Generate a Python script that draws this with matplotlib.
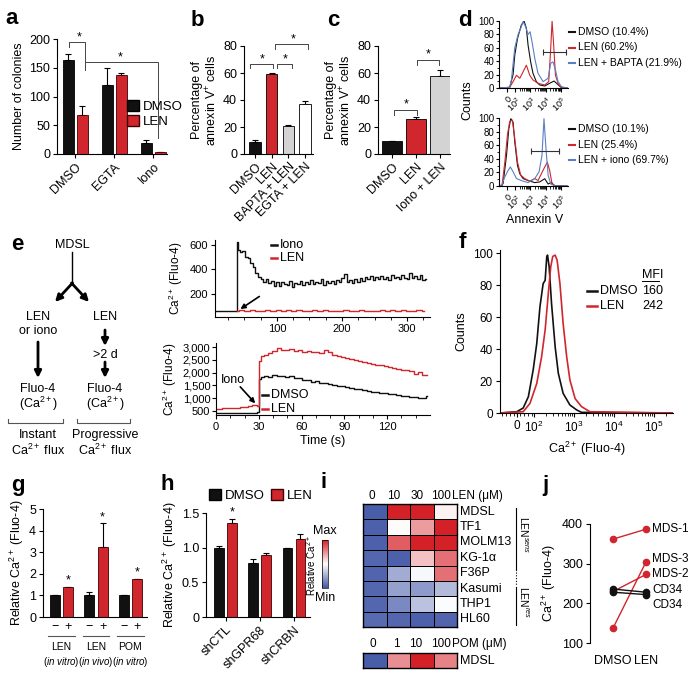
import numpy as np
import matplotlib
matplotlib.use('Agg')
import matplotlib.pyplot as plt
import matplotlib.transforms as mtransforms
from matplotlib.patches import Patch
from matplotlib.colors import LinearSegmentedColormap

plt.rcParams['font.family'] = ['Liberation Sans', 'DejaVu Sans']
plt.rcParams['mathtext.fontset'] = 'custom'
plt.rcParams['mathtext.rm'] = 'Liberation Sans'
plt.rcParams['mathtext.it'] = 'Liberation Sans:italic'
plt.rcParams['mathtext.bf'] = 'Liberation Sans:bold'
plt.rcParams['font.size'] = 8
plt.rcParams['axes.linewidth'] = 0.8

BLACK = '#111111'
RED = '#d0262d'
BLUE = '#5b7fc4'
GREY = '#d3d3d3'

# ---------------- data ----------------
# a
a_groups = ['DMSO', 'EGTA', 'Iono']
a_dmso = [163, 120, 19]
a_dmso_err = [11, 30, 5]
a_len = [68, 137, 3]
a_len_err = [16, 4, 1]
# b
b_labels = ['DMSO', 'LEN', 'BAPTA + LEN', 'EGTA + LEN']
b_vals = [9, 59.5, 20.5, 37]
b_err = [1.2, 0.6, 1.2, 2]
# c
c_labels = ['DMSO', 'LEN', 'Iono + LEN']
c_vals = [9.5, 26, 57.5]
c_err = [0.4, 1.5, 5]
# d (x in decade positions of the flow axis)
d1_dmso_x = [0.95, 1.65, 1.87, 1.98, 2.16, 2.41, 2.59, 2.74, 2.85, 3.02, 3.17, 3.39, 3.61, 3.94, 4.26, 4.55, 4.81, 5.03, 5.4]
d1_dmso_y = [0, 1, 20, 49, 74, 94, 100, 89, 64, 39, 22, 9.5, 4.5, 3, 7, 10.4, 5, 0.5, 0]
d1_len_x = [0.95, 1.65, 1.87, 2.09, 2.31, 2.52, 2.74, 2.96, 3.17, 3.50, 3.94, 4.20, 4.33, 4.42, 4.51, 4.64, 4.81, 5.03, 5.4]
d1_len_y = [0, 1, 9.5, 19, 14.5, 24, 34, 19, 12, 7, 4.5, 9.5, 59, 100, 69, 19, 7, 0.5, 0]
d1_bapta_x = [0.95, 1.65, 1.76, 1.98, 2.20, 2.37, 2.52, 2.68, 2.85, 2.98, 3.11, 3.29, 3.50, 3.83, 4.16, 4.33, 4.48, 4.64, 4.81, 5.03, 5.4]
d1_bapta_y = [0, 1, 12, 60, 80, 89, 99, 92, 80, 84, 69, 44, 22, 9.5, 14.5, 37, 39, 27, 9.5, 2, 0]
d1_gate = [3.85, 5.36]
d2_dmso_x = [0.95, 1.15, 1.22, 1.44, 1.59, 1.72, 1.87, 1.98, 2.16, 2.31, 2.52, 2.85, 3.29, 3.61, 3.94, 4.16, 4.37, 4.59, 5.4]
d2_dmso_y = [0, 1, 4, 45, 84, 99, 94, 65, 30, 18, 11, 8, 5, 6, 10.7, 3, 5, 0.5, 0]
d2_len_x = [0.95, 1.15, 1.33, 1.50, 1.65, 1.82, 1.98, 2.16, 2.37, 2.63, 2.96, 3.29, 3.50, 3.72, 3.94, 4.11, 4.26, 4.42, 4.59, 5.4]
d2_len_y = [0, 1, 35, 75, 95, 97, 70, 35, 16, 11, 7, 11, 8, 18, 28, 35, 23, 3, 0.5, 0]
d2_iono_x = [0.95, 1.15, 1.28, 1.50, 1.69, 1.87, 2.09, 2.41, 2.85, 3.29, 3.57, 3.76, 3.89, 4.02, 4.16, 4.33, 4.59, 5.4]
d2_iono_y = [0, 2, 11, 21, 28, 21, 11, 8, 5, 11, 21, 45, 99, 55, 16, 3, 0.5, 0]
d2_gate = [3.02, 4.85]
d_legend1 = ['DMSO (10.4%)', 'LEN (60.2%)', 'LEN + BAPTA (21.9%)']
d_legend2 = ['DMSO (10.1%)', 'LEN (25.4%)', 'LEN + iono (69.7%)']
# e, top trace
e1_iono_t = [5, 10, 15, 20, 25, 30, 35, 38, 39,
             41, 45, 49, 53, 57, 61, 65, 69, 73, 77, 81, 85, 89, 93, 97, 101, 105, 109,
             113, 117, 121, 125, 129, 133, 137, 141, 145, 149, 153, 157, 161, 165, 169,
             173, 177, 181, 185, 189, 193, 197, 201, 205, 209, 213, 217, 221, 225, 229,
             233, 237, 241, 245, 249, 253, 257, 261, 265, 269, 273, 277, 281, 285, 289,
             293, 297, 301, 305, 309, 313, 317, 321, 325, 329]
e1_iono_v = [58, 60, 57, 62, 59, 61, 60, 62, 625,
             560, 540, 548, 505, 490, 455, 420, 370, 335, 320, 300, 325, 285, 305, 265,
             295, 262, 300, 278, 268, 305, 255, 292, 276, 302, 268, 296, 282, 312, 276,
             300, 288, 322, 275, 306, 286, 302, 278, 312, 294, 330, 365, 300, 316, 290,
             322, 300, 330, 306, 338, 318, 342, 312, 335, 320, 348, 325, 340, 316, 352,
             328, 340, 322, 355, 330, 318, 370, 326, 345, 318, 350, 310, 325]
e1_len_t = [38, 46, 54, 62, 70, 78, 86, 94, 102, 110, 118, 126, 134, 142, 150, 158, 166,
            174, 182, 190, 198, 206, 214, 222, 230, 238, 246, 254, 262, 270, 278, 286,
            294, 302, 310, 318, 326]
e1_len_v = [62, 66, 60, 68, 63, 58, 65, 61, 67, 59, 64, 60, 66, 62, 58, 65, 61, 67, 60,
            63, 59, 66, 62, 60, 65, 58, 63, 61, 66, 60, 64, 59, 65, 62, 58, 66, 60]
# e, bottom trace
e2_t = [0, 3, 6, 9, 12, 15, 18, 21, 24, 27, 30, 30.5,
        32, 35, 38, 41, 44, 47, 50, 53, 56, 59, 62, 65, 68, 71, 74, 77, 80, 83, 86,
        89, 92, 95, 98, 101, 104, 107, 110, 113, 116, 119, 122, 125, 128, 131, 134,
        137, 140, 143, 146, 148]
e2_dmso = [400, 405, 398, 410, 412, 408, 415, 420, 418, 425, 430, 1750,
           1830, 1860, 1840, 1890, 1850, 1880, 1830, 1870, 1800, 1770, 1720, 1710,
           1650, 1670, 1600, 1590, 1540, 1530, 1480, 1480, 1420, 1410, 1360, 1340,
           1300, 1290, 1250, 1240, 1200, 1190, 1150, 1140, 1120, 1090, 1070, 1040,
           1030, 1000, 1020, 1060]
e2_len = [570, 585, 590, 605, 610, 625, 640, 665, 690, 715, 700, 2450,
          2650, 2710, 2790, 2860, 2960, 2900, 2880, 2930, 2860, 2900, 2830, 2860,
          2800, 2830, 2780, 2890, 2800, 2700, 2660, 2610, 2570, 2530, 2490, 2460,
          2420, 2390, 2350, 2310, 2290, 2250, 2210, 2190, 2150, 2110, 2090, 2060,
          1950, 2010, 1900, 1920]
# f
f_dmso_x = [1.15, 1.57, 1.73, 1.86, 1.98, 2.07, 2.15, 2.23, 2.28, 2.32, 2.34, 2.38, 2.44, 2.53, 2.61, 2.73, 2.90, 3.07, 3.19, 5.48]
f_dmso_y = [0, 0.8, 3.1, 10.2, 26.9, 43.5, 66.5, 81, 83, 97.7, 98.8, 91.5, 68.5, 41.5, 24.8, 12.3, 5.0, 1.9, 0.4, 0]
f_len_x = [1.15, 1.73, 1.90, 2.07, 2.19, 2.28, 2.36, 2.42, 2.47, 2.53, 2.58, 2.65, 2.73, 2.82, 2.90, 3.03, 3.19, 3.40, 5.48]
f_len_y = [0, 0.8, 6, 18.5, 35, 52, 75, 91.5, 98, 98.8, 95.6, 81, 56, 35, 20.6, 9, 4, 0.8, 0]
f_mfi = [160, 242]
# g
g_groups = ['LEN', 'LEN', 'POM']
g_sub = ['in vitro', 'in vivo', 'in vitro']
g_ctrl = [1.0, 1.0, 1.0]
g_ctrl_err = [0.03, 0.18, 0.03]
g_trt = [1.37, 3.25, 1.75]
g_trt_err = [0.04, 1.08, 0.03]
# h
h_labels = ['shCTL', 'shGPR68', 'shCRBN']
h_dmso = [1.0, 0.78, 0.99]
h_dmso_err = [0.03, 0.05, 0.01]
h_len = [1.36, 0.9, 1.12]
h_len_err = [0.05, 0.03, 0.07]
# i
i_len_doses = ['0', '10', '30', '100']
i_cells = ['MDSL', 'TF1', 'MOLM13', 'KG-1α', 'F36P', 'Kasumi', 'THP1', 'HL60']
i_len = [[0.02, 1.00, 1.00, 0.53],
         [0.03, 0.51, 0.72, 1.00],
         [0.03, 0.86, 1.00, 1.00],
         [0.05, 0.03, 0.64, 0.82],
         [0.04, 0.25, 0.48, 0.82],
         [0.05, 0.22, 0.20, 0.30],
         [0.05, 0.15, 0.32, 0.49],
         [0.06, 0.05, 0.03, 0.04]]
i_pom_doses = ['0', '1', '10', '100']
i_pom = [[0.02, 0.75, 1.00, 0.78]]
# j
j_names = ['MDS-1', 'MDS-3', 'MDS-2', 'CD34', 'CD34']
j_dmso = [362, 138, 230, 236, 228]
j_len = [387, 305, 273, 228, 222]
j_colors = [RED, RED, RED, BLACK, BLACK]

# ---------------- figure ----------------
W, H = 693, 678
fig = plt.figure(figsize=(W / 100.0, H / 100.0), dpi=100)


def axpx(l, t, r, b):
    return fig.add_axes([l / float(W), 1 - b / float(H), (r - l) / float(W), (b - t) / float(H)])


def style(ax, size=8):
    for s in ['top', 'right']:
        ax.spines[s].set_visible(False)
    ax.tick_params(direction='out', length=3, width=0.8, labelsize=size, pad=2)
    ax.tick_params(which='minor', length=1.8, width=0.6)


def star(ax, x, y, size=9):
    tr = mtransforms.offset_copy(ax.transData, fig=fig, x=0, y=-0.58 * size * 100 / 72.0, units='dots')
    ax.text(x, y, '*', ha='center', va='baseline', fontsize=size, transform=tr, clip_on=False)


def bracket(ax, x1, x2, y, d1, d2=None):
    if d2 is None:
        d2 = d1
    ax.plot([x1, x1, x2, x2], [y - d1, y, y, y - d2], color='#444444', lw=0.7, clip_on=False)


def up_err(ax, x, v, e):
    ax.errorbar(x, v, yerr=[[0] * len(v), e], fmt='none', ecolor='k', elinewidth=0.8,
                capsize=2.5, capthick=0.8, zorder=1)


ov = fig.add_axes([0, 0, 1, 1])
ov.set_xlim(0, W)
ov.set_ylim(H, 0)
ov.axis('off')
ov.set_zorder(10)


def letter(x, y, s):
    ov.text(x, y, s, fontsize=16, fontweight='bold', ha='center', va='center')


for x, y, s in [(12, 19, 'a'), (197, 20, 'b'), (333, 20, 'c'), (465, 20, 'd'), (17, 245, 'e'),
                (462, 243, 'f'), (18, 485, 'g'), (167, 485, 'h'), (324, 482, 'i'), (545, 485, 'j')]:
    letter(x, y, s)

# ---- a ----
ax = axpx(57, 39, 167, 154)
style(ax)
x = np.arange(len(a_groups))
ax.bar(x - 0.18, a_dmso, 0.28, color=BLACK, edgecolor='k', lw=0.6, zorder=2)
ax.bar(x + 0.18, a_len, 0.28, color=RED, edgecolor='#400000', lw=0.6, zorder=2)
up_err(ax, x - 0.18, a_dmso, a_dmso_err)
up_err(ax, x + 0.18, a_len, a_len_err)
ax.set_xlim(-0.47, 2.35)
ax.set_ylim(0, 200)
ax.set_yticks([0, 50, 100, 150, 200])
ax.set_xticks(x)
ax.set_xticklabels(a_groups, rotation=45, ha='right', rotation_mode='anchor', fontsize=9)
ax.tick_params(labelsize=9)
ax.set_ylabel('Number of colonies', fontsize=9, labelpad=3)
ax.plot([-0.15, -0.15, 0.24, 0.24], [186, 194, 194, 146], color='#444444', lw=0.7, clip_on=False)
ax.plot([0.24, 2.12, 2.12], [160, 160, 28], color='#444444', lw=0.7, clip_on=False)
star(ax, 0.1, 210)
star(ax, 1.14, 176)
ax.legend([Patch(facecolor=BLACK, edgecolor='k'), Patch(facecolor=RED, edgecolor='#400000')],
          ['DMSO', 'LEN'], loc='upper left', bbox_to_anchor=(0.64, 0.47), frameon=False,
          fontsize=9.5, handlelength=0.9, handleheight=0.9, handletextpad=0.3,
          labelspacing=0.15, borderpad=0, borderaxespad=0)

# ---- b ----
ax = axpx(244, 46, 313, 154)
style(ax)
x = np.arange(len(b_labels))
ax.bar(x, b_vals, 0.68, color=[BLACK, RED, GREY, 'white'], edgecolor='k', lw=0.6, zorder=2)
up_err(ax, x, b_vals, b_err)
ax.set_xlim(-0.66, 3.48)
ax.set_ylim(0, 80)
ax.set_yticks([0, 20, 40, 60, 80])
ax.set_xticks(x)
ax.set_xticklabels(b_labels, rotation=45, ha='right', rotation_mode='anchor', fontsize=8)
ax.tick_params(labelsize=9)
ax.set_ylabel('Percentage of\nannexin V$^{+}$ cells', fontsize=9, labelpad=3, linespacing=1.1)
bracket(ax, -0.3, 1.1, 67, 3.5)
bracket(ax, 1.34, 2.23, 67, 3.5)
bracket(ax, 1.2, 3.19, 81.2, 3.7)
star(ax, 0.45, 73.3)
star(ax, 1.8, 73.3)
star(ax, 2.3, 88)

# ---- c ----
ax = axpx(378, 46, 450, 154)
style(ax)
x = np.arange(len(c_labels))
ax.bar(x, c_vals, 0.8, color=[BLACK, RED, GREY], edgecolor='k', lw=0.6, zorder=2)
up_err(ax, x, c_vals, c_err)
ax.set_xlim(-0.58, 2.42)
ax.set_ylim(0, 80)
ax.set_yticks([0, 20, 40, 60, 80])
ax.set_xticks(x)
ax.set_xticklabels(c_labels, rotation=45, ha='right', rotation_mode='anchor', fontsize=8.5)
ax.tick_params(labelsize=9)
ax.set_ylabel('Percentage of\nannexin V$^{+}$ cells', fontsize=9, labelpad=3, linespacing=1.1)
bracket(ax, 0.1, 1.04, 32.6, 3.7)
bracket(ax, 1.04, 1.98, 69.6, 3.7)
star(ax, 0.58, 40)
star(ax, 1.5, 77)

# ---- d ----
dticks = [1.5, 2, 3, 4, 5]
dtlab = ['0', '$10^2$', '$10^3$', '$10^4$', '$10^5$']
dminor = [d + np.log10(k) for d in [2, 3, 4] for k in range(2, 10)]
for (t, b, curves, gate, gy, labs) in [
        (21, 88, [(d1_dmso_x, d1_dmso_y, BLACK), (d1_len_x, d1_len_y, RED), (d1_bapta_x, d1_bapta_y, BLUE)],
         d1_gate, 54, d_legend1),
        (118, 186, [(d2_dmso_x, d2_dmso_y, BLACK), (d2_len_x, d2_len_y, RED), (d2_iono_x, d2_iono_y, BLUE)],
         d2_gate, 51, d_legend2)]:
    ax = axpx(499, t, 568, b)
    style(ax, 7)
    for cx, cy, col in curves:
        ax.plot(cx, cy, color=col, lw=0.8)
    ax.plot(gate, [gy, gy], color='#333333', lw=0.8, marker='|', ms=5, mew=0.8)
    ax.set_xlim(0.95, 5.46)
    ax.set_ylim(0, 100)
    ax.set_yticks([0, 20, 40, 60, 80, 100])
    ax.set_yticks([10, 30, 50, 70, 90], minor=True)
    ax.set_xticks(dticks)
    ax.set_xticks(dminor, minor=True)
    ax.set_xticklabels(dtlab, rotation=45, ha='right', rotation_mode='anchor', fontsize=6.5)
    ax.tick_params(axis='y', length=2.5, pad=1)
    cols = [BLACK, RED, BLUE]
    for k in range(3):
        yy = t + 11 + k * 15.5
        ov.plot([569, 575], [yy, yy], color=cols[k], lw=1.5)
        ov.text(578, yy, labs[k], fontsize=7.5, va='center', ha='left')
ov.text(467, 100, 'Counts', rotation=90, fontsize=9, ha='center', va='center')
ov.text(535, 220, 'Annexin V', fontsize=9, ha='center', va='center')

# ---- e flowchart ----
fs = 9
ov.text(72, 245, 'MDSL', fontsize=fs, ha='center', va='center')
ov.plot([72, 72], [252, 283], color='k', lw=1)
ap = dict(arrowstyle='-|>', color='k', lw=2.0, mutation_scale=10, shrinkA=0, shrinkB=0)
ov.annotate('', xy=(55, 302), xytext=(72.5, 283), arrowprops=ap)
ov.annotate('', xy=(89, 302), xytext=(71.5, 283), arrowprops=ap)
ov.text(38, 317, 'LEN', fontsize=fs, ha='center', va='center')
ov.text(38, 331, 'or iono', fontsize=fs, ha='center', va='center')
ov.text(105, 317, 'LEN', fontsize=fs, ha='center', va='center')
ov.annotate('', xy=(38, 378), xytext=(38, 342), arrowprops=ap)
ov.annotate('', xy=(105, 346), xytext=(105, 330), arrowprops=ap)
ov.text(105, 355, '>2 d', fontsize=fs, ha='center', va='center')
ov.annotate('', xy=(105, 378), xytext=(105, 362), arrowprops=ap)
for cx in [38, 105]:
    ov.text(cx, 389, 'Fluo-4', fontsize=fs, ha='center', va='center')
    ov.text(cx, 404, '(Ca$^{2+}$)', fontsize=fs, ha='center', va='center')
for x1, x2 in [(8, 63), (77, 130)]:
    ov.plot([x1, x1, x2, x2], [419, 423, 423, 419], color='#555555', lw=0.8)
ov.text(38, 435, 'Instant', fontsize=fs, ha='center', va='center')
ov.text(38, 450, 'Ca$^{2+}$ flux', fontsize=fs, ha='center', va='center')
ov.text(105, 435, 'Progressive', fontsize=fs, ha='center', va='center')
ov.text(105, 450, 'Ca$^{2+}$ flux', fontsize=fs, ha='center', va='center')

# ---- e traces ----
ax = axpx(215, 240, 430, 317)
style(ax)
ax.plot(e1_iono_t, e1_iono_v, color=BLACK, lw=1.0, drawstyle='steps-mid')
ax.plot(e1_len_t, e1_len_v, color=RED, lw=1.0, drawstyle='steps-mid')
ax.set_xlim(5, 335)
ax.set_ylim(10, 640)
ax.set_yticks([200, 400, 600])
ax.set_xticks([100, 200, 300])
ax.set_xticks(np.arange(25, 335, 25), minor=True)
ax.set_ylabel('Ca$^{2+}$ (Fluo-4)', fontsize=8.5, labelpad=3)
ax.annotate('', xy=(44, 75), xytext=(73, 178),
            arrowprops=dict(arrowstyle='-|>', color='k', lw=1.2, mutation_scale=7, shrinkA=0, shrinkB=0))
ov.plot([271, 277], [245, 245], color=BLACK, lw=1.8)
ov.text(280, 245, 'Iono', fontsize=9, va='center')
ov.plot([271, 277], [258, 258], color=RED, lw=1.8)
ov.text(280, 258, 'LEN', fontsize=9, va='center')

ax = axpx(216, 343, 430, 415)
style(ax)
ax.plot(e2_t, e2_dmso, color=BLACK, lw=1.0, drawstyle='steps-mid')
ax.plot(e2_t, e2_len, color=RED, lw=1.0, drawstyle='steps-mid')
ax.set_xlim(0, 150)
ax.set_ylim(330, 3170)
ax.set_yticks([500, 1000, 1500, 2000, 2500, 3000])
ax.set_yticklabels(['500', '1,000', '1,500', '2,000', '2,500', '3,000'])
ax.set_xticks([0, 30, 60, 90, 120])
ax.set_xticks(np.arange(10, 150, 10), minor=True)
ax.tick_params(axis='y', pad=1)
ax.set_ylabel('Ca$^{2+}$ (Fluo-4)', fontsize=8.5, labelpad=3)
ax.set_xlabel('Time (s)', fontsize=9, labelpad=2)
ax.annotate('', xy=(27.5, 790), xytext=(17, 1440),
            arrowprops=dict(arrowstyle='-|>', color='k', lw=1.2, mutation_scale=7, shrinkA=0, shrinkB=0))
ax.text(12, 1700, 'Iono', fontsize=9, ha='center', va='center')
ov.plot([262, 268], [395, 395], color=BLACK, lw=1.8)
ov.text(271, 395, 'DMSO', fontsize=9, va='center')
ov.plot([262, 268], [409, 409], color=RED, lw=1.8)
ov.text(271, 409, 'LEN', fontsize=9, va='center')

# ---- f ----
ax = axpx(500, 250, 673, 413)
style(ax)
ax.plot(f_dmso_x, f_dmso_y, color=BLACK, lw=1.2)
ax.plot(f_len_x, f_len_y, color=RED, lw=1.2)
ax.set_xlim(1.15, 5.48)
ax.set_ylim(0, 102)
ax.set_yticks([0, 20, 40, 60, 80, 100])
ax.set_xticks([1.57, 2, 3, 4, 5])
ax.set_xticklabels(['0', '$10^2$', '$10^3$', '$10^4$', '$10^5$'], fontsize=8.5)
ax.set_xticks([1.2, 1.3, 1.4, 1.5, 1.65, 1.75, 1.85, 1.95] +
              [d + np.log10(k) for d in [2, 3, 4, 5] for k in range(2, 10) if d + np.log10(k) < 5.45],
              minor=True)
ax.tick_params(labelsize=8.5)
ax.set_ylabel('Counts', fontsize=9, labelpad=4)
ax.set_xlabel('Ca$^{2+}$ (Fluo-4)', fontsize=9, labelpad=3)
ov.text(642, 275, 'MFI', fontsize=9, va='center')
ov.plot([642, 659], [281, 281], color='k', lw=0.7)
ov.plot([587, 597], [291, 291], color=BLACK, lw=1.8)
ov.text(600, 291, 'DMSO', fontsize=9, va='center')
ov.text(642, 291, str(f_mfi[0]), fontsize=9, va='center')
ov.plot([587, 597], [306, 306], color=RED, lw=1.8)
ov.text(600, 306, 'LEN', fontsize=9, va='center')
ov.text(642, 306, str(f_mfi[1]), fontsize=9, va='center')

# ---- g ----
ax = axpx(43, 509, 147, 617)
style(ax)
x = np.arange(len(g_groups))
ax.bar(x - 0.19, g_ctrl, 0.29, color=BLACK, edgecolor='k', lw=0.6, zorder=2)
ax.bar(x + 0.19, g_trt, 0.29, color=RED, edgecolor='#400000', lw=0.6, zorder=2)
up_err(ax, x - 0.19, g_ctrl, g_ctrl_err)
up_err(ax, x + 0.19, g_trt, g_trt_err)
ax.set_xlim(-0.54, 2.48)
ax.set_ylim(0, 5)
ax.set_yticks([0, 1, 2, 3, 4, 5])
ax.set_xticks(np.concatenate([x - 0.19, x + 0.19]))
ax.set_xticklabels(['\u2212'] * 3 + ['+'] * 3, fontsize=9)
ax.tick_params(axis='x', length=0, pad=3)
ax.tick_params(axis='y', labelsize=9)
ax.set_ylabel('Relative Ca$^{2+}$ (Fluo-4)', fontsize=9, labelpad=2)
for k in range(3):
    star(ax, x[k] + 0.19, [1.9, 4.8, 2.27][k])
    ax.plot([x[k] - 0.39, x[k] + 0.39], [-0.88, -0.88], color='#555555', lw=0.8, clip_on=False)
    ax.text(x[k], -1.39, g_groups[k], fontsize=7.5, ha='center', va='center')
    ax.text(x[k], -2.08, '($\\it{' + g_sub[k].replace(' ', '\\ ') + '}$)', fontsize=7,
            ha='center', va='center')

# ---- h ----
ax = axpx(206, 513, 310, 617)
style(ax)
x = np.arange(len(h_labels))
ax.bar(x - 0.19, h_dmso, 0.29, color=BLACK, edgecolor='k', lw=0.6, zorder=2)
ax.bar(x + 0.19, h_len, 0.29, color=RED, edgecolor='#400000', lw=0.6, zorder=2)
up_err(ax, x - 0.19, h_dmso, h_dmso_err)
up_err(ax, x + 0.19, h_len, h_len_err)
ax.set_xlim(-0.58, 2.47)
ax.set_ylim(0, 1.5)
ax.set_yticks([0, 0.5, 1.0, 1.5])
ax.set_yticklabels(['0', '0.5', '1.0', '1.5'])
ax.set_xticks(x)
ax.set_xticklabels(h_labels, rotation=45, ha='right', rotation_mode='anchor', fontsize=9)
ax.tick_params(labelsize=9)
ax.set_ylabel('Relative Ca$^{2+}$ (Fluo-4)', fontsize=9, labelpad=2)
star(ax, 0.19, 1.57)
ax.legend([Patch(facecolor=BLACK, edgecolor='k'), Patch(facecolor=RED, edgecolor='#400000')],
          ['DMSO', 'LEN'], loc='center left', bbox_to_anchor=(0.03, 1.17), frameon=False, ncol=2,
          fontsize=9.5, handlelength=0.9, handleheight=0.9, handletextpad=0.3, columnspacing=0.5,
          borderpad=0, borderaxespad=0)

# ---- i ----
cmap = LinearSegmentedColormap.from_list('bwr2', ['#4257a6', '#ffffff', '#d42027'])
ax = axpx(363, 504, 457, 627)
mesh = ax.pcolormesh(np.array(i_len), cmap=cmap, vmin=0, vmax=1, edgecolors='k', linewidth=0.6)
ax.set_xlim(0, 4)
ax.set_ylim(len(i_cells), 0)
ax.set_xticks([])
ax.set_yticks([])
for s in ax.spines.values():
    s.set_linewidth(1.0)
for k, lab in enumerate(i_len_doses):
    ax.text([0.37, 1.29, 2.31, 3.3][k], -0.55, lab, fontsize=8.5, ha='center', va='center')
ax.text(3.8, -0.55, 'LEN (\u03bcM)', fontsize=8.5, ha='left', va='center')
for r, lab in enumerate(i_cells):
    ax.text(4.13, r + 0.5, lab, fontsize=9, ha='left', va='center')
ax.plot([6.51, 6.51], [0.26, 4.29], color='k', lw=0.8, clip_on=False)
ax.plot([6.51, 6.51], [4.45, 5.25], color='k', lw=0.8, ls=(0, (1, 1.5)), clip_on=False)
ax.plot([6.51, 6.51], [5.4, 7.87], color='k', lw=0.8, clip_on=False)
ax.text(6.82, 2.0, 'LEN$^{sens}$', rotation=270, fontsize=7.5, ha='center', va='center')
ax.text(6.82, 6.4, 'LEN$^{res}$', rotation=270, fontsize=7.5, ha='center', va='center')

ax = axpx(363, 653, 457, 668)
ax.pcolormesh(np.array(i_pom), cmap=cmap, vmin=0, vmax=1, edgecolors='k', linewidth=0.6)
ax.set_xlim(0, 4)
ax.set_ylim(1, 0)
ax.set_xticks([])
ax.set_yticks([])
for s in ax.spines.values():
    s.set_linewidth(1.0)
for k, lab in enumerate(i_pom_doses):
    ax.text([0.43, 1.43, 2.25, 3.3][k], -0.6, lab, fontsize=8.5, ha='center', va='center')
ax.text(3.8, -0.6, 'POM (\u03bcM)', fontsize=8.5, ha='left', va='center')
ax.text(4.13, 0.5, 'MDSL', fontsize=9, ha='left', va='center')

cax = axpx(322, 540, 328, 588)
cb = fig.colorbar(mesh, cax=cax)
cb.set_ticks([])
cb.outline.set_linewidth(0.5)
ov.text(325, 531, 'Max', fontsize=9, ha='center', va='center')
ov.text(325, 598, 'Min', fontsize=9, ha='center', va='center')
ov.text(311, 565, 'Relative Ca$^{2+}$', fontsize=7, rotation=90, ha='center', va='center')

# ---- j ----
ax = axpx(590, 524, 660, 643)
for s in ['top', 'right', 'bottom']:
    ax.spines[s].set_visible(False)
ax.tick_params(axis='y', direction='out', length=3, width=0.8, labelsize=9, pad=2)
ax.tick_params(axis='x', length=0, labelsize=9, pad=9)
for k in range(len(j_names)):
    ax.plot([0, 1], [j_dmso[k], j_len[k]], color=j_colors[k], lw=1.0, marker='o', ms=4.5,
            clip_on=False)
ax.set_xlim(-0.7, 1.42)
ax.set_ylim(100, 400)
ax.set_yticks([100, 200, 300, 400])
ax.set_xticks([0, 1])
ax.set_xticklabels(['DMSO', 'LEN'])
ax.set_ylabel('Ca$^{2+}$ (Fluo-4)', fontsize=9, labelpad=3)
for name, yy in zip(j_names, [387, 311, 274, 233, 197]):
    ax.text(1.18, yy, name, fontsize=8.5, ha='left', va='center')

fig.savefig('out.png', dpi=100)
